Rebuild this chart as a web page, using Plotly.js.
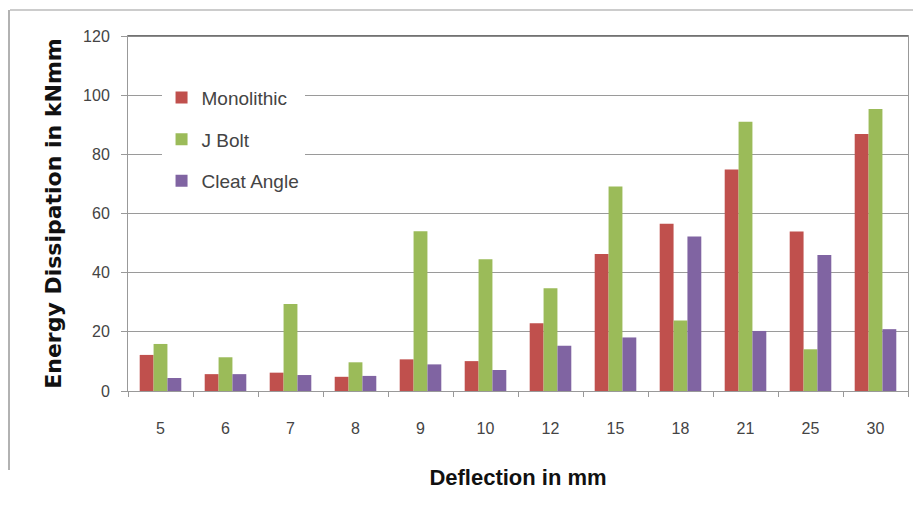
<!DOCTYPE html>
<html>
<head>
<meta charset="utf-8">
<script src="https://cdn.plot.ly/plotly-3.0.1.min.js"></script>
<style>
  html, body { margin: 0; padding: 0; background: #fff; }
  #chart { width: 913px; height: 511px; }
</style>
</head>
<body>
<div id="chart"></div>
<script>
// Deflection steps (mm) and energy dissipated (kNmm) for each connection type
const deflections = ['5', '6', '7', '8', '9', '10', '12', '15', '18', '21', '25', '30'];
const monolithic  = [12.2, 5.7, 6.2, 4.8, 10.7, 10.1, 22.9, 46.3, 56.5, 74.9, 53.9, 86.9];
const jBolt       = [15.9, 11.4, 29.4, 9.7, 54.0, 44.5, 34.7, 69.1, 23.8, 91.0, 14.1, 95.3];
const cleatAngle  = [4.4, 5.7, 5.4, 5.1, 9.0, 7.1, 15.3, 18.1, 52.2, 20.3, 46.0, 20.9];
const yTicks      = [0, 20, 40, 60, 80, 100, 120];

const seriesNames  = ['Monolithic', 'J Bolt', 'Cleat Angle'];
const seriesValues = [monolithic, jBolt, cleatAngle];
const seriesColors = ['#C0504D', '#9BBB59', '#8064A2'];

const traces = seriesNames.map((name, i) => ({
  type: 'bar',
  name: name,
  x: deflections,
  y: seriesValues[i],
  legendgroup: 'g' + i,
  marker: { color: seriesColors[i], line: { width: 0 } },
  hoverinfo: 'x+y+name'
}));

const labelFamily = 'Liberation Sans, Arial, sans-serif';
const tickFont = { family: labelFamily, size: 16, color: '#444' };

const layout = {
  width: 913,
  height: 511,
  margin: { l: 128, r: 5, t: 36, b: 120 },
  paper_bgcolor: '#fff',
  plot_bgcolor: '#fff',
  barmode: 'group',
  bargap: 0.36,
  bargroupgap: 0,
  showlegend: true,
  legend: {
    x: 0.043, y: 0.88, xanchor: 'left', yanchor: 'top',
    bgcolor: '#fff',
    traceorder: 'grouped',
    tracegroupgap: 14,
    font: { family: labelFamily, size: 19, color: '#444' },
    itemwidth: 30
  },
  xaxis: {
    type: 'category',
    tickfont: tickFont,
    showline: true, linecolor: '#999', linewidth: 1,
    mirror: true,
    ticks: 'outside', tickson: 'boundaries', ticklen: 5, tickcolor: '#999',
    ticklabelstandoff: 23,
    showgrid: false,
    title: {
      text: 'Deflection in mm',
      font: { family: labelFamily, size: 22, color: '#111', weight: 'bold' },
      standoff: 33
    },
    automargin: false
  },
  yaxis: {
    range: [0, 120],
    tickvals: yTicks,
    ticktext: yTicks.map(String),
    tickfont: tickFont,
    showline: true, linecolor: '#999', linewidth: 1,
    mirror: true,
    ticks: 'outside', ticklen: 6, tickcolor: '#999',
    ticklabelstandoff: 8,
    showgrid: true, gridcolor: '#9a9a9a', gridwidth: 1,
    zeroline: false,
    title: {
      text: 'Energy Dissipation in kNmm',
      font: { family: 'DejaVu Sans, sans-serif', size: 22, color: '#111', weight: 'bold' },
      standoff: 15
    },
    automargin: false
  },
  shapes: [
    // darker top edge of the plot frame
    { type: 'line', xref: 'paper', yref: 'paper', x0: 0, x1: 1, y0: 1, y1: 1,
      line: { color: '#666', width: 1.5 } },
    // outer frame of the figure
    { type: 'line', xref: 'paper', yref: 'paper',
      x0: (10 - 128) / 780, x1: (913 - 128) / 780,
      y0: (391 - 10) / 355, y1: (391 - 10) / 355,
      line: { color: '#bbb', width: 1.5 } },
    { type: 'line', xref: 'paper', yref: 'paper',
      x0: (9 - 128) / 780, x1: (9 - 128) / 780,
      y0: (391 - 10) / 355, y1: (391 - 470) / 355,
      line: { color: '#999', width: 1.5 } }
  ]
};

Plotly.newPlot('chart', traces, layout, { displayModeBar: false, staticPlot: true });
</script>
</body>
</html>
